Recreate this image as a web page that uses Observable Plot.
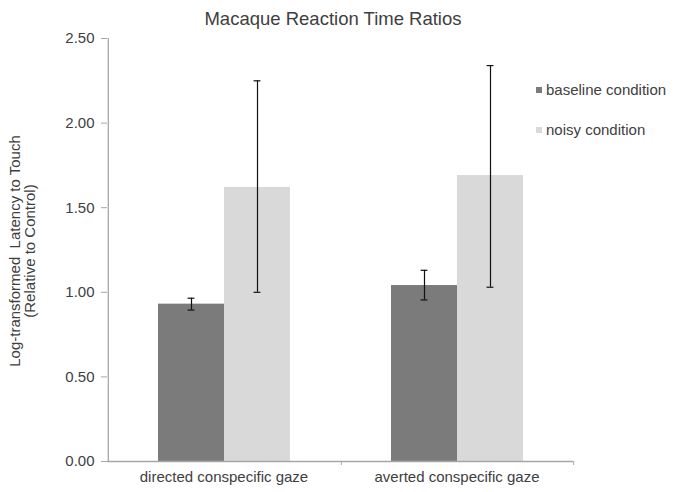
<!DOCTYPE html>
<html><head><meta charset="utf-8">
<script src="https://cdn.jsdelivr.net/npm/d3@7"></script>
<script src="https://cdn.jsdelivr.net/npm/@observablehq/plot@0.6"></script>
<style>
body{margin:0;background:#fff;}
#wrap{position:relative;width:673px;height:492px;font-family:"Liberation Sans",Arial,sans-serif;color:#404040;overflow:hidden;}
#title{position:absolute;left:0;width:666px;top:7px;text-align:center;font-size:18.5px;line-height:24px;}
#ylab{position:absolute;left:22px;top:251px;width:300px;transform:translate(-50%,-50%) rotate(-90deg);text-align:center;font-size:15px;line-height:15px;white-space:pre;}
.leg{position:absolute;left:536px;font-size:15px;line-height:16px;white-space:nowrap;}
.leg span{display:inline-block;width:6px;height:6px;margin-right:4px;vertical-align:middle;position:relative;top:-1px;}
</style></head><body><div id="wrap"></div>
<script>
const groups = ["directed conspecific gaze", "averted conspecific gaze"];
const conditions = ["baseline condition", "noisy condition"];
const baselineMean = [0.93, 1.04];
const baselineLow = [0.895, 0.955];
const baselineHigh = [0.965, 1.13];
const noisyMean = [1.62, 1.69];
const noisyLow = [1.00, 1.03];
const noisyHigh = [2.25, 2.34];
const colors = ["#7b7b7b", "#d9d9d9"];
const yTicks = [0, 0.5, 1, 1.5, 2, 2.5];
const titleText = "Macaque Reaction Time Ratios";
const yLabelLines = ["Log-transformed  Latency to Touch", "(Relative to Control)"];

const rows = [];
groups.forEach((g, i) => {
  rows.push({group: g, condition: conditions[0], value: baselineMean[i], lo: baselineLow[i], hi: baselineHigh[i]});
  rows.push({group: g, condition: conditions[1], value: noisyMean[i], lo: noisyLow[i], hi: noisyHigh[i]});
});

const W = 673, H = 492, mL = 106, mR = 100, mT = 38, mB = 31;
const padOuter = 0.739;
const facetW = (W - mL - mR) / groups.length;
const step = facetW / (conditions.length + 2 * padOuter);
const edgeLeft = -(padOuter + 0.5) * step;
const edgeRight = (padOuter + 0.5) * step;
const capInset = (step - 8) / 2;
const axisColor = "#a6a6a6";

const leftEdges = groups.map(g => ({group: g, condition: conditions[0]}));
const rightEdge = [{group: groups[groups.length - 1], condition: conditions[conditions.length - 1]}];

const chart = Plot.plot({
  width: W, height: H,
  marginLeft: mL, marginRight: mR, marginTop: mT, marginBottom: mB,
  style: {fontFamily: '"Liberation Sans", Arial, sans-serif', fontSize: "15px", color: "#404040", background: "white", overflow: "visible"},
  fx: {domain: groups, padding: 0, label: null, axis: null},
  x: {domain: conditions, paddingInner: 0, paddingOuter: padOuter, axis: null},
  y: {domain: [0, 2.5], axis: null},
  color: {domain: conditions, range: colors},
  marks: [
    Plot.barY(rows, {fx: "group", x: "condition", y: "value", fill: "condition"}),
    Plot.ruleY([0], {stroke: axisColor, strokeWidth: 1.3}),
    Plot.ruleX(leftEdges.slice(0, 1), {fx: "group", x: "condition", y1: 0, y2: 2.5, dx: edgeLeft, stroke: axisColor, strokeWidth: 1.3}),
    Plot.ruleX(leftEdges.slice(1), {fx: "group", x: "condition", y1: 0, y2: 0, insetBottom: -4, dx: edgeLeft, stroke: axisColor}),
    Plot.ruleX(rightEdge, {fx: "group", x: "condition", y1: 0, y2: 0, insetBottom: -4, dx: edgeRight, stroke: axisColor}),
    Plot.ruleX(rows, {fx: "group", x: "condition", y1: "lo", y2: "hi", stroke: "#111", strokeWidth: 1.2}),
    Plot.tickY(rows, {fx: "group", x: "condition", y: "lo", insetLeft: capInset, insetRight: capInset, stroke: "#111", strokeWidth: 1.2}),
    Plot.tickY(rows, {fx: "group", x: "condition", y: "hi", insetLeft: capInset, insetRight: capInset, stroke: "#111", strokeWidth: 1.2}),
    Plot.axisY({ticks: yTicks, tickFormat: d3.format(".2f"), tickSize: 6, tickPadding: 7, stroke: axisColor, fill: "#404040", fontSize: 15, label: null}),
    Plot.axisFx({anchor: "bottom", tickSize: 0, tickPadding: 10, fill: "#404040", fontSize: 15, label: null})
  ]
});

const wrap = document.getElementById("wrap");
wrap.appendChild(chart);

const t = document.createElement("div");
t.id = "title"; t.textContent = titleText; wrap.appendChild(t);

const yl = document.createElement("div");
yl.id = "ylab"; yl.textContent = yLabelLines.join("\n"); wrap.appendChild(yl);

const legTops = [82, 122];
conditions.forEach((c, i) => {
  const d = document.createElement("div");
  d.className = "leg";
  d.style.top = legTops[i] + "px";
  const sw = document.createElement("span");
  sw.style.background = colors[i];
  d.appendChild(sw);
  d.appendChild(document.createTextNode(c));
  wrap.appendChild(d);
});
</script></body></html>
